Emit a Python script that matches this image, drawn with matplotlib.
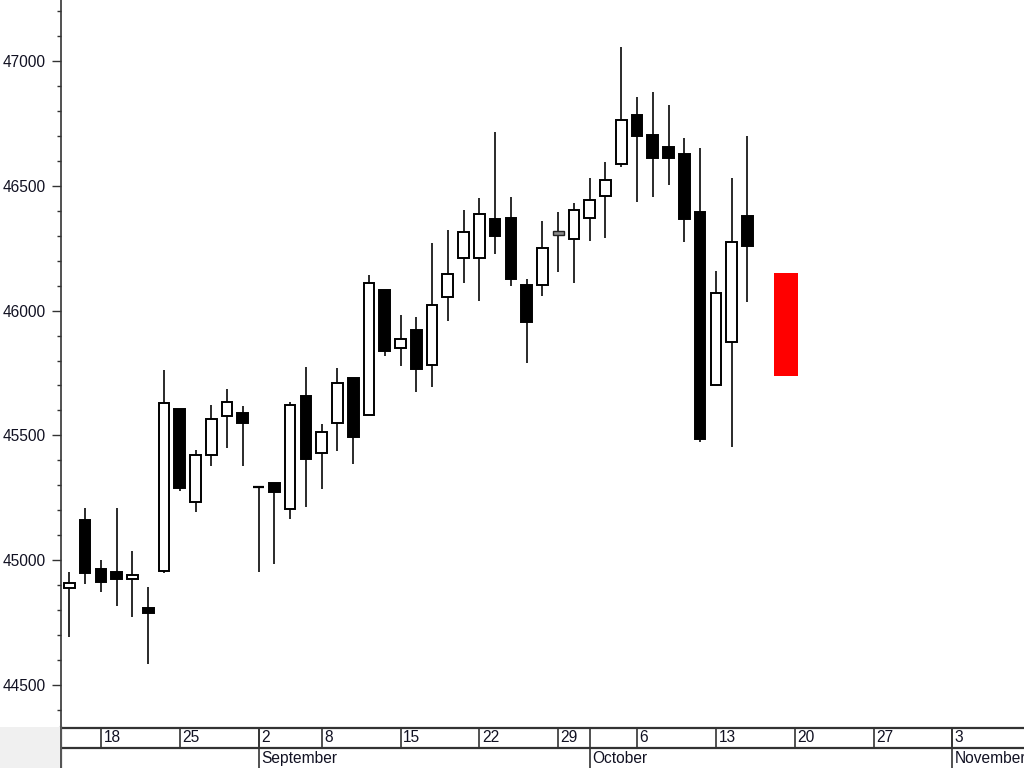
import matplotlib
matplotlib.use("Agg")
import matplotlib.pyplot as plt
from matplotlib.patches import Rectangle
import matplotlib.ticker as mticker

plt.rcParams['font.family'] = ['Liberation Sans', 'DejaVu Sans']

# ---- data (trading-day index based) ----
opens = [44890, 45161, 44966, 44952, 44924, 44810, 44956, 45607, 45235, 45420,
         45579, 45591, 45293, 45311, 45205, 45657, 45431, 45551, 45731, 45581,
         46083, 45852, 45922, 45781, 46056, 46212, 46212, 46367, 46372, 46103,
         46103, 46306, 46287, 46371, 46460, 46586, 46784, 46704, 46654, 46629,
         46396, 45701, 45876, 46378]
highs = [44952, 45208, 45001, 45208, 45037, 44892, 45762, 45607, 45442, 45622,
         45686, 45617, 45293, 45311, 45635, 45773, 45547, 45769, 45731, 46143,
         46083, 45982, 45973, 46270, 46323, 46403, 46452, 46717, 46456, 46127,
         46359, 46393, 46430, 46533, 46594, 47055, 46855, 46875, 46824, 46690,
         46650, 46159, 46530, 46700]
lows = [44694, 44904, 44873, 44818, 44773, 44583, 44950, 45279, 45193, 45379,
        45449, 45379, 44954, 44984, 45164, 45215, 45284, 45439, 45384, 45581,
        45820, 45778, 45675, 45695, 45958, 46109, 46040, 46226, 46100, 45789,
        46060, 46156, 46109, 46280, 46290, 46577, 46434, 46454, 46504, 46275,
        45474, 45701, 45455, 46033]
closes = [44910, 44948, 44913, 44924, 44941, 44788, 45631, 45290, 45420, 45566,
          45635, 45551, 45293, 45275, 45622, 45404, 45515, 45711, 45495, 46112,
          45840, 45886, 45766, 46023, 46147, 46316, 46386, 46300, 46125, 45956,
          46252, 46316, 46403, 46442, 46522, 46762, 46700, 46611, 46611, 46366,
          45485, 46072, 46274, 46259]
gray_candles = [31]

# forecast box
forecast_x = 45.42
forecast_width = 1.52
forecast_low = 45738
forecast_high = 46150

# axis labels
week_pos = [2, 7, 12, 16, 21, 26, 31, 36, 41, 46, 51, 56]
week_labels = ['18', '25', '2', '8', '15', '22', '29', '6', '13', '20', '27', '3']
month_names_pos = [12, 33, 56]
month_names = ['September', 'October', 'November']

FS = 11.2
TXT = '#111122'

W, H = 1024, 768
fig = plt.figure(figsize=(W / 100, H / 100), dpi=100)
fig.patch.set_facecolor('white')

ax_left, ax_bottom = 61, 727
ax = fig.add_axes([ax_left / W, (H - ax_bottom) / H, (W - ax_left) / W, ax_bottom / H])
ax.set_xlim(-0.53, 60.54)
ax.set_ylim(44332, 47244)

body_w = 0.68
wick_color = '#2a2a2a'
for i, (o, h, l, c) in enumerate(zip(opens, highs, lows, closes)):
    ax.plot([i, i], [l, h], color=wick_color, lw=1.4, solid_capstyle='butt', zorder=1)
    lo, hi = min(o, c), max(o, c)
    if i in gray_candles:
        ax.add_patch(Rectangle((i - body_w / 2, lo - 3), body_w, hi - lo + 6, facecolor='#8a8a8a',
                               edgecolor='#222222', lw=1.0, zorder=2))
        continue
    fc = 'white' if c >= o else 'black'
    if hi - lo < 1:
        ax.plot([i - body_w / 2, i + body_w / 2], [lo, lo], color='black', lw=1.6,
                solid_capstyle='butt', zorder=2)
    else:
        ax.add_patch(Rectangle((i - body_w / 2, lo), body_w, hi - lo, facecolor=fc,
                               edgecolor='black', lw=1.4, zorder=2))

ax.add_patch(Rectangle((forecast_x - forecast_width / 2, forecast_low), forecast_width,
                       forecast_high - forecast_low, facecolor='#ff0000',
                       edgecolor='none', zorder=3))

ax.yaxis.set_major_locator(mticker.MultipleLocator(500))
ax.yaxis.set_minor_locator(mticker.MultipleLocator(100))
ax.yaxis.set_major_formatter(mticker.FuncFormatter(lambda v, p: f'{int(v)}'))
ax.tick_params(axis='y', which='major', length=6.5, width=1.0, pad=4.8,
               labelsize=FS, colors='#333333', labelcolor=TXT)
ax.tick_params(axis='y', which='minor', length=2.9, width=1.0, colors='#333333')
ax.set_xticks([])
for s in ['top', 'right', 'bottom']:
    ax.spines[s].set_visible(False)
ax.spines['left'].set_color('#333333')
ax.spines['left'].set_linewidth(1.2)

# bottom date band
bx = fig.add_axes([ax_left / W, 0, (W - ax_left) / W, (H - ax_bottom) / H])
bx.set_xlim(ax.get_xlim())
bx.set_ylim(41, 0)  # pixels from top of band
bx.axis('off')
lc = '#333333'
bx.plot([-0.53, 60.54], [0.5, 0.5], color=lc, lw=1.6, clip_on=False)
bx.plot([-0.53, 60.54], [20.5, 20.5], color=lc, lw=1.6, clip_on=False)
bx.plot([-0.53, -0.53], [0, 41], color='#555555', lw=1.6, clip_on=False)
px = 1 / 15.765
for p, lab in zip(week_pos, week_labels):
    bx.plot([p, p], [0, 20.5], color=lc, lw=1.2)
    bx.text(p + 2.5 * px, 11, lab, ha='left', va='center', fontsize=FS, color=TXT)
for p, lab in zip(month_names_pos, month_names):
    bx.plot([p, p], [0, 41], color=lc, lw=1.2)
    bx.text(p + 2.5 * px, 31.5, lab, ha='left', va='center', fontsize=FS, color=TXT)

# gray area at bottom-left
fig.patches.append(Rectangle((0, 0), 60 / W, (H - ax_bottom) / H, transform=fig.transFigure,
                             facecolor='#f0f0f0', edgecolor='none', zorder=0))

fig.savefig('out.png', dpi=100)
